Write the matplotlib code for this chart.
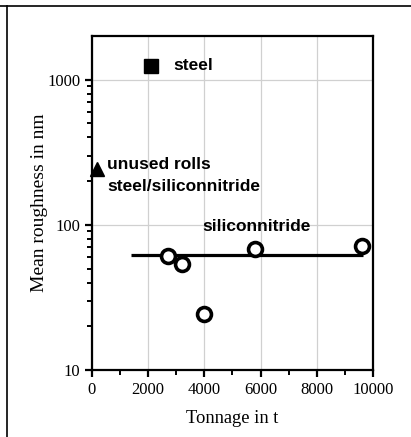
import matplotlib
matplotlib.use("Agg")
import matplotlib.pyplot as plt
from matplotlib.lines import Line2D
from matplotlib.ticker import FixedLocator, NullFormatter, MultipleLocator

# Data
steel_x = [2100]
steel_y = [1250]
unused_x = [180]
unused_y = [242]
sini_x = [2700, 3200, 4000, 5800, 9600]
sini_y = [61, 53.5, 24.5, 68, 72]
fit_x = [1400, 9650]
fit_y = [62, 62]

x_ticks = [0, 2000, 4000, 6000, 8000, 10000]
y_ticks = [10, 100, 1000]

serif = "Liberation Serif"
sans = "Liberation Sans"

fig = plt.figure(figsize=(4.11, 4.37), dpi=100)
ax = fig.add_axes([0.2238, 0.1533, 0.6837, 0.7643])

# frame lines of the original table cell
fig.add_artist(Line2D([0, 1], [0.986, 0.986], color="black", lw=1.2,
                      transform=fig.transFigure))
fig.add_artist(Line2D([0.017, 0.017], [0, 0.986], color="black", lw=1.2,
                      transform=fig.transFigure))

ax.set_yscale("log")
ax.set_xlim(0, 10000)
ax.set_ylim(10, 2000)

ax.grid(True, which="major", color="#d0d0d0", lw=0.9)
ax.set_axisbelow(True)

ax.plot(fit_x, fit_y, color="black", lw=2.3, solid_capstyle="butt")
ax.plot(steel_x, steel_y, "s", color="black", ms=10)
ax.plot(unused_x, unused_y, "^", color="black", ms=10, clip_on=False)
ax.plot(sini_x, sini_y, "o", mfc="white", mec="black", mew=2.6, ms=10)

ax.text(2900, 1250, "steel", fontfamily=sans, fontweight="bold",
        fontsize=12.5, va="center")
ax.text(550, 260, "unused rolls", fontfamily=sans, fontweight="bold",
        fontsize=12.5, va="center")
ax.text(550, 183, "steel/siliconnitride", fontfamily=sans, fontweight="bold",
        fontsize=12.5, va="center")
ax.text(5870, 97, "siliconnitride", fontfamily=sans, fontweight="bold",
        fontsize=12.5, va="center", ha="center")

ax.set_xticks(x_ticks)
ax.set_xticklabels([str(v) for v in x_ticks])
ax.xaxis.set_minor_locator(MultipleLocator(1000))
ax.yaxis.set_major_locator(FixedLocator(y_ticks))
ax.set_yticklabels([str(v) for v in y_ticks])
minors = [m * 10 ** e for e in (1, 2, 3) for m in range(2, 10) if m * 10 ** e < 2000]
ax.yaxis.set_minor_locator(FixedLocator(minors))
ax.yaxis.set_minor_formatter(NullFormatter())

for sp in ax.spines.values():
    sp.set_linewidth(1.6)
ax.tick_params(which="major", direction="out", length=5, width=1.6,
               labelsize=12)
ax.tick_params(which="minor", direction="out", length=3.5, width=1.4)
for lab in ax.get_xticklabels() + ax.get_yticklabels():
    lab.set_fontfamily(serif)

ax.set_xlabel("Tonnage in t", fontfamily=serif, fontsize=13.3, labelpad=9)
ax.set_ylabel("Mean roughness in nm", fontfamily=serif, fontsize=14,
              labelpad=-1)

fig.savefig("out.png", dpi=100)
